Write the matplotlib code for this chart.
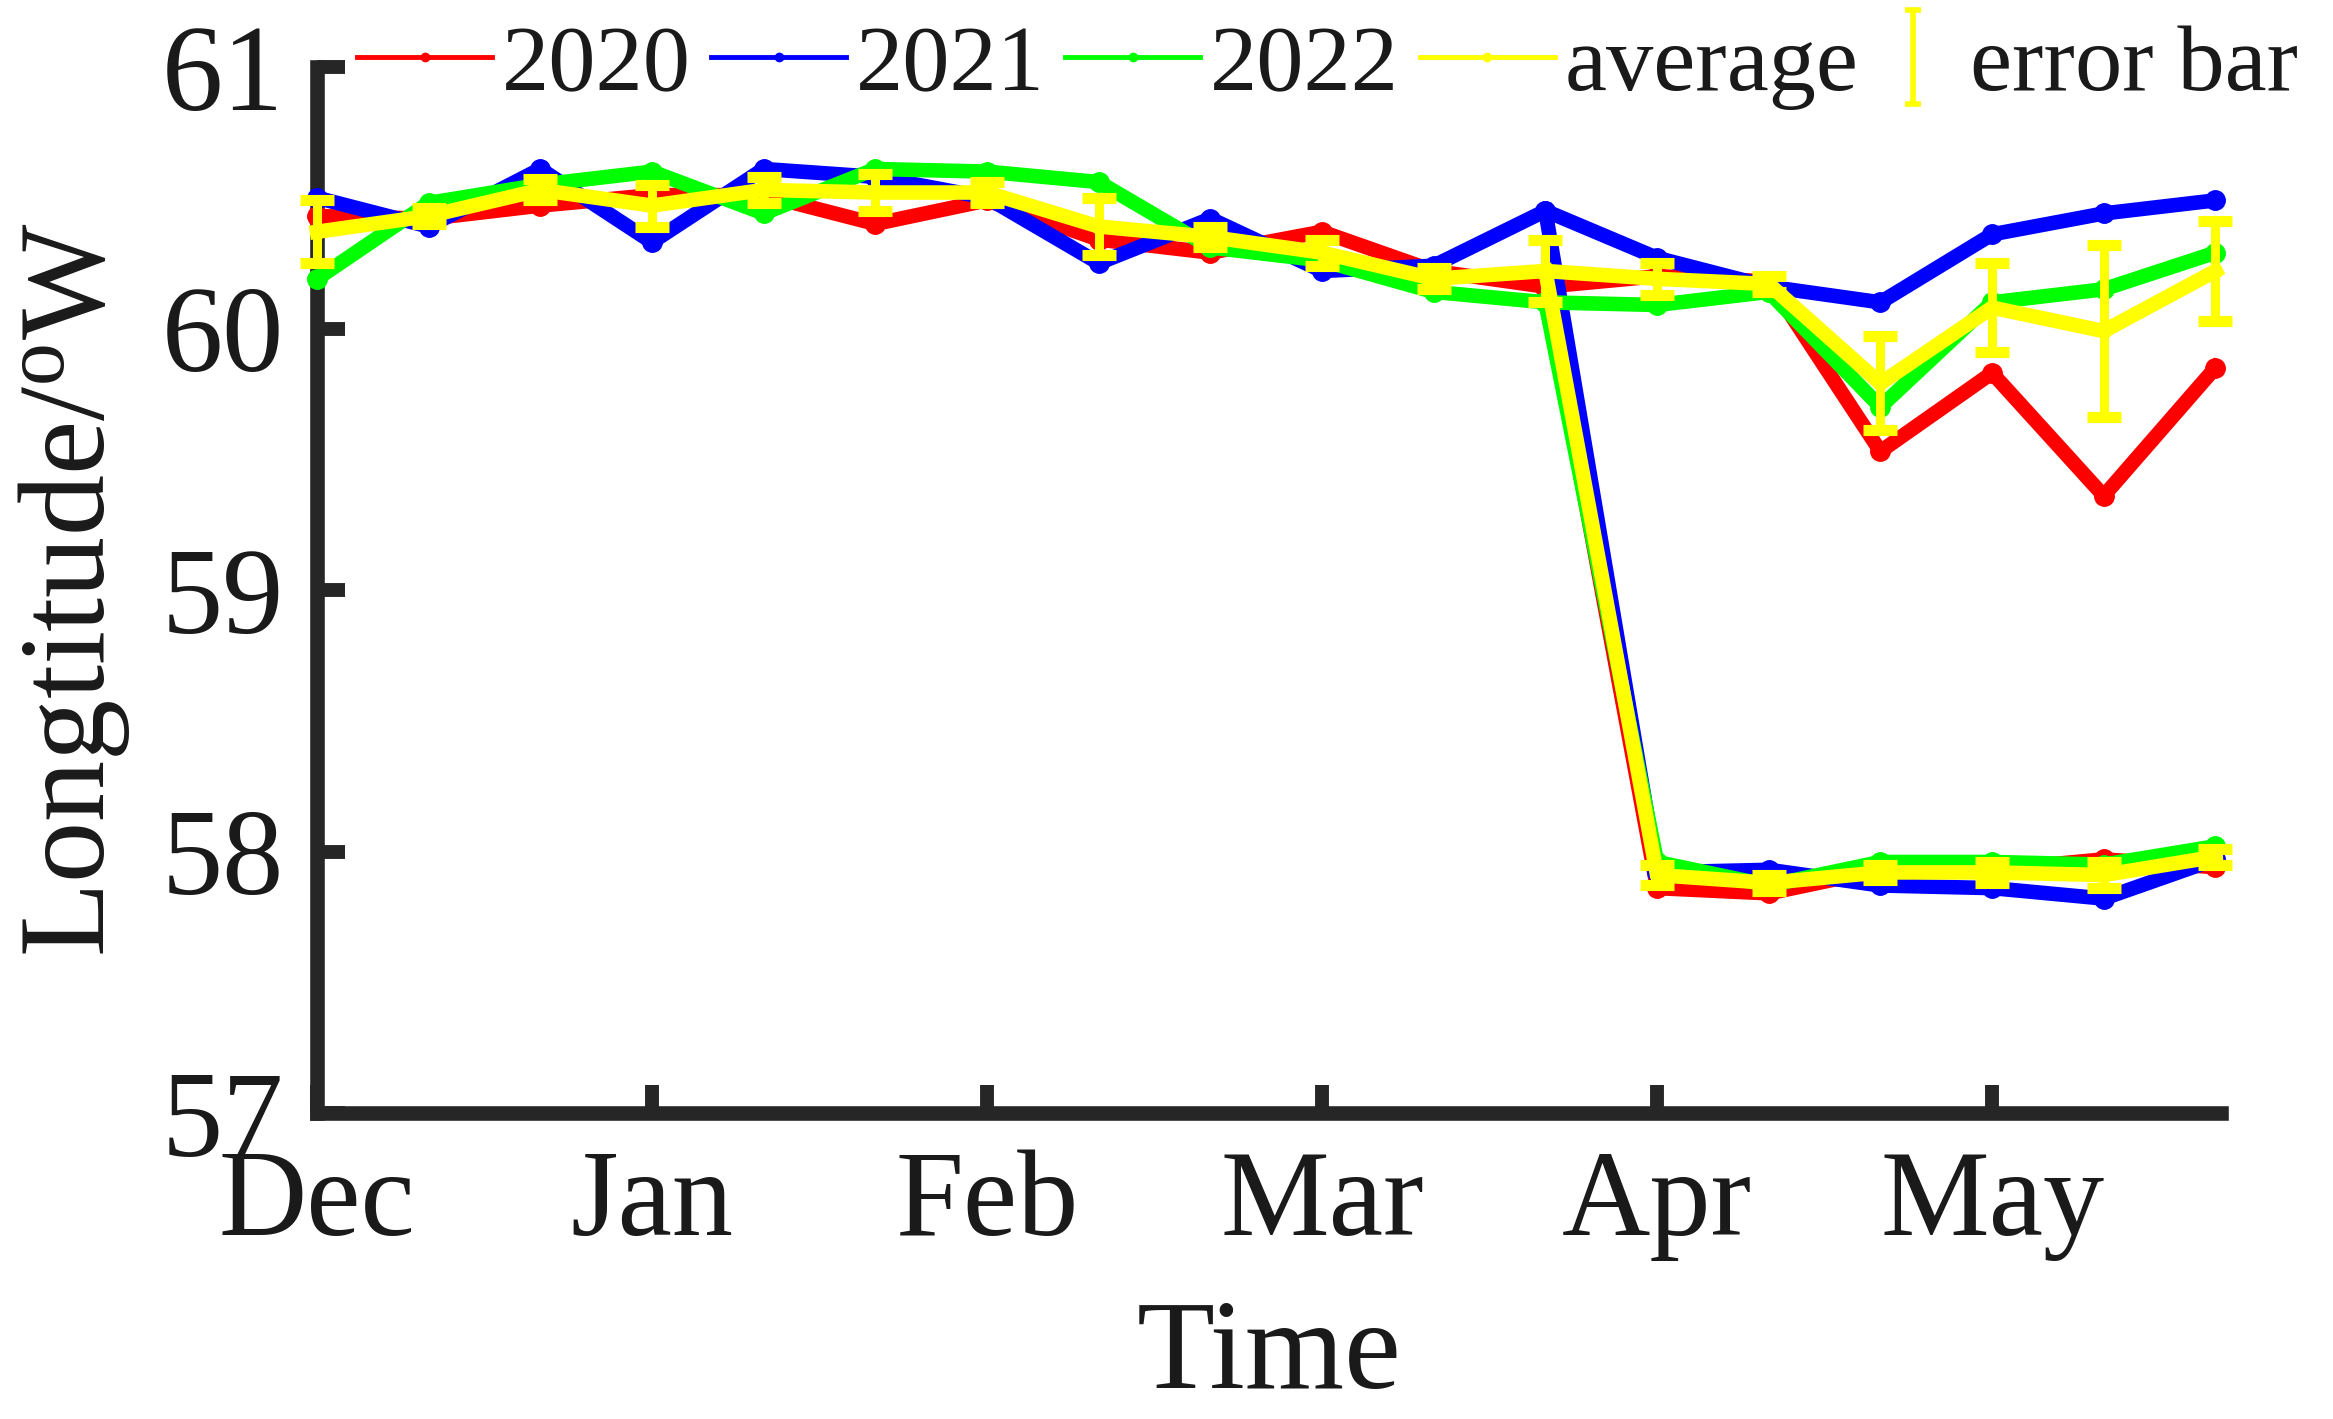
import numpy as np
import matplotlib
matplotlib.use("Agg")
import matplotlib.pyplot as plt
from matplotlib.lines import Line2D

plt.rcParams['font.family'] = ['Liberation Serif', 'DejaVu Serif']
plt.rcParams['mathtext.fontset'] = 'custom'
plt.rcParams['mathtext.rm'] = 'Liberation Serif'
plt.rcParams['mathtext.it'] = 'Liberation Serif:italic'

# ---------------- data ----------------
month_labels = ['Dec', 'Jan', 'Feb', 'Mar', 'Apr', 'May']
month_ticks = [0, 3, 6, 9, 12, 15]
n_points = 18
split_index = 11   # lower branch starts from this point

y2020 = [60.43, 60.42, 60.47, 60.51, 60.51, 60.40, 60.49, 60.34, 60.29, 60.37,
         60.22, 60.16, 60.20, 60.18, 59.53, 59.83, 59.36, 59.85]
y2021 = [60.50, 60.39, 60.61, 60.33, 60.61, 60.58, 60.50, 60.25, 60.42, 60.22,
         60.24, 60.45, 60.27, 60.16, 60.10, 60.36, 60.44, 60.49]
y2022 = [60.19, 60.48, 60.55, 60.60, 60.44, 60.61, 60.60, 60.56, 60.31, 60.26,
         60.14, 60.10, 60.09, 60.14, 59.70, 60.10, 60.15, 60.29]
y_avg = [60.37, 60.43, 60.53, 60.47, 60.53, 60.52, 60.52, 60.39, 60.35, 60.29,
         60.19, 60.22, 60.19, 60.17, 59.79, 60.08, 59.99, 60.22]
err_avg = [0.12, 0.03, 0.04, 0.08, 0.05, 0.07, 0.04, 0.11, 0.04, 0.05,
           0.04, 0.12, 0.06, 0.03, 0.18, 0.17, 0.33, 0.19]

# lower branch (points 12..17)
low2020 = [57.86, 57.84, 57.93, 57.93, 57.97, 57.94]
low2021 = [57.92, 57.93, 57.87, 57.86, 57.82, 57.97]
low2022 = [57.96, 57.87, 57.96, 57.96, 57.95, 58.02]
low_avg = [57.91, 57.88, 57.92, 57.92, 57.91, 57.98]
low_err = [0.04, 0.03, 0.03, 0.04, 0.05, 0.03]

series_names = ['2020', '2021', '2022']
# --------------------------------------

RED, BLUE, GREEN, YELLOW = '#FF0000', '#0000FF', '#00FF00', '#FFFF00'
AXC = '#262626'
TXC = '#1a1a1a'

W, H = 2333, 1419
fig = plt.figure(figsize=(W / 100, H / 100), dpi=100)
ax = fig.add_axes([317 / W, 1 - 1113 / H, 1904 / W, 1046 / H])

x = np.arange(n_points)
x_low = x[split_index:]

LW = 10.5
MS = 14

for up, low, col in [(y2020, low2020, RED), (y2021, low2021, BLUE), (y2022, low2022, GREEN)]:
    ax.plot(x, up, '-', color=col, lw=LW, marker='o', ms=MS, mec=col,
            zorder=3, clip_on=False)
    ax.plot(x_low, [up[split_index]] + low, '-', color=col, lw=LW, marker='o',
            ms=MS, mec=col, zorder=3, clip_on=False)

ax.plot(x, y_avg, '-', color=YELLOW, lw=LW, marker='o', ms=10, zorder=5, clip_on=False)
ax.plot(x_low, [y_avg[split_index]] + low_avg, '-', color=YELLOW, lw=LW, marker='o',
        ms=10, zorder=5, clip_on=False)
eb1 = ax.errorbar(x, y_avg, yerr=err_avg, fmt='none', ecolor=YELLOW, elinewidth=6.5,
                  capsize=12, capthick=8, zorder=6, clip_on=False)
eb2 = ax.errorbar(x[split_index + 1:], low_avg, yerr=low_err, fmt='none', ecolor=YELLOW,
                  elinewidth=6.5, capsize=12, capthick=8, zorder=6, clip_on=False)
for eb in (eb1, eb2):
    for c in eb.lines[1]:
        c.set_clip_on(False)
    for c in eb.lines[2]:
        c.set_clip_on(False)

ax.set_xlim(0, 17.05)
ax.set_ylim(57, 61)
ax.set_xticks(month_ticks)
ax.set_xticklabels(month_labels)
ax.set_yticks([57, 58, 59, 60, 61])

for s in ['top', 'right']:
    ax.spines[s].set_visible(False)
for s in ['left', 'bottom']:
    ax.spines[s].set_linewidth(10.5)
    ax.spines[s].set_color(AXC)
    ax.spines[s].set_zorder(2)

ax.tick_params(axis='both', direction='in', length=20, width=10, color=AXC,
               labelsize=88, labelcolor=TXC)
ax.tick_params(axis='x', pad=26)
ax.tick_params(axis='y', pad=24)

ax.set_xlabel('Time', fontsize=92, color=TXC)
ax.xaxis.set_label_coords(0.5, -0.178)
ax.set_ylabel(r'Longtitude/$^{\rm o}$W', fontsize=88, color=TXC)
ax.yaxis.set_label_coords(-0.097, 0.5)

# legend
handles = [Line2D([], [], color=c, lw=3.5, marker='o', ms=6, mec=c)
           for c in (RED, BLUE, GREEN, YELLOW)]
leg1 = ax.legend(handles, series_names + ['average'], loc='center left',
                 bbox_to_anchor=(0.021, 1.0), ncol=4, frameon=False, fontsize=68,
                 handlelength=1.43, handletextpad=0.1, columnspacing=0.22,
                 borderpad=0, borderaxespad=0)
ax.add_artist(leg1)
eb_proxy = ax.errorbar([np.nan], [np.nan], yerr=[np.nan], fmt='none', ecolor=YELLOW,
                       elinewidth=4, capsize=6, capthick=4)
leg2 = ax.legend([eb_proxy], ['error bar'], loc='center left',
                 bbox_to_anchor=(0.826, 1.0), frameon=False, fontsize=68,
                 handlelength=0.5, handletextpad=0.35, borderpad=0, borderaxespad=0)
for lg in (leg1, leg2):
    for t in lg.get_texts():
        t.set_color(TXC)

fig.savefig('out.png', dpi=100)
